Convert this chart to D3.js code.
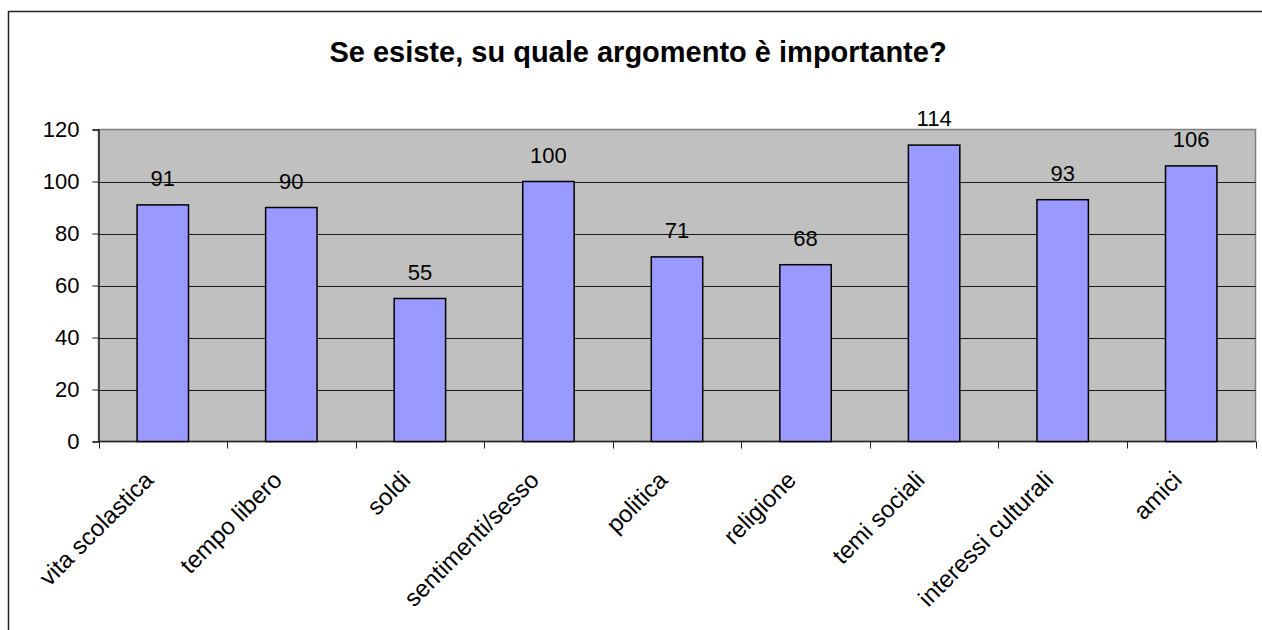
<!DOCTYPE html>
<html>
<head>
<meta charset="utf-8">
<script src="https://cdn.jsdelivr.net/npm/d3@7"></script>
<style>
  html, body { margin: 0; padding: 0; background: #fff; }
  svg { display: block; font-family: "Liberation Sans", Arial, sans-serif; }
</style>
</head>
<body>
<svg id="chart" width="1262" height="630"></svg>
<script>
// Survey answers per topic
const titleText = "Se esiste, su quale argomento è importante?";
const categories = ["vita scolastica", "tempo libero", "soldi", "sentimenti/sesso", "politica", "religione", "temi sociali", "interessi culturali", "amici"];
const values = [91, 90, 55, 100, 71, 68, 114, 93, 106];
const yTicks = [0, 20, 40, 60, 80, 100, 120];

const svg = d3.select("#chart");

const plot = { left: 98.5, right: 1255.5, top: 129.5, bottom: 441.5 };

const x = d3.scaleBand()
  .domain(categories)
  .range([plot.left, plot.right])
  .paddingInner(0.6)
  .paddingOuter(0.3);

const y = d3.scaleLinear()
  .domain([0, 120])
  .range([plot.bottom, plot.top]);

// Outer chart frame
svg.append("path")
  .attr("d", "M8.5,630 L8.5,11.5 L1262,11.5")
  .attr("fill", "none")
  .attr("stroke", "#222")
  .attr("stroke-width", 1.5);

// Title
svg.append("text")
  .attr("x", 638)
  .attr("y", 62)
  .attr("text-anchor", "middle")
  .attr("font-size", 29)
  .attr("font-weight", "bold")
  .attr("fill", "#000")
  .text(titleText);

// Plot background
svg.append("rect")
  .attr("x", plot.left)
  .attr("y", plot.top)
  .attr("width", plot.right - plot.left)
  .attr("height", plot.bottom - plot.top)
  .attr("fill", "#c0c0c0")
  .attr("stroke", "#808080")
  .attr("stroke-width", 1.5);

// Horizontal gridlines
svg.append("g")
  .selectAll("line")
  .data(yTicks.filter(d => d > 0 && d < 120))
  .join("line")
  .attr("x1", plot.left)
  .attr("x2", plot.right)
  .attr("y1", d => Math.round(y(d)) + 0.5)
  .attr("y2", d => Math.round(y(d)) + 0.5)
  .attr("stroke", "#1a1a1a")
  .attr("stroke-width", 1);

// Y axis
const yAxis = d3.axisLeft(y)
  .tickValues(yTicks)
  .tickSize(6)
  .tickPadding(13)
  .tickFormat(d3.format("d"));

const gy = svg.append("g")
  .attr("transform", `translate(${plot.left},0)`)
  .call(yAxis);
gy.select(".domain").attr("stroke", "#222").attr("stroke-width", 1.5);
gy.selectAll(".tick line").attr("stroke", "#222");
gy.selectAll(".tick text")
  .attr("font-size", 22)
  .attr("fill", "#000")
  .attr("font-family", "'Liberation Sans', Arial, sans-serif");

// X axis: ticks sit on band boundaries
const xAxisLine = svg.append("g");
xAxisLine.append("line")
  .attr("x1", plot.left).attr("x2", plot.right)
  .attr("y1", plot.bottom).attr("y2", plot.bottom)
  .attr("stroke", "#222").attr("stroke-width", 1.5);
const step = x.step();
const boundaries = d3.range(categories.length + 1).map(i => plot.left + i * step);
xAxisLine.selectAll("line.tk")
  .data(boundaries)
  .join("line")
  .attr("class", "tk")
  .attr("x1", d => Math.round(d) + 0.5)
  .attr("x2", d => Math.round(d) + 0.5)
  .attr("y1", plot.bottom)
  .attr("y2", plot.bottom + 7)
  .attr("stroke", "#222");

// Bars
svg.append("g")
  .selectAll("rect")
  .data(values)
  .join("rect")
  .attr("x", (d, i) => x(categories[i]))
  .attr("y", d => y(d))
  .attr("width", x.bandwidth())
  .attr("height", d => y(0) - y(d))
  .attr("fill", "#9999ff")
  .attr("stroke", "#000")
  .attr("stroke-width", 1.5);

// Value labels above bars
svg.append("g")
  .selectAll("text")
  .data(values)
  .join("text")
  .attr("x", (d, i) => x(categories[i]) + x.bandwidth() / 2)
  .attr("y", d => y(d) - 19)
  .attr("text-anchor", "middle")
  .attr("font-size", 22)
  .attr("fill", "#000")
  .text(d => d);

// Rotated category labels
svg.append("g")
  .selectAll("text")
  .data(categories)
  .join("text")
  .attr("transform", d => `translate(${x(d) + x.bandwidth() / 2 - 8},${plot.bottom + 40}) rotate(-45)`)
  .attr("text-anchor", "end")
  .attr("font-size", 24)
  .attr("fill", "#000")
  .text(d => d);
</script>
</body>
</html>
